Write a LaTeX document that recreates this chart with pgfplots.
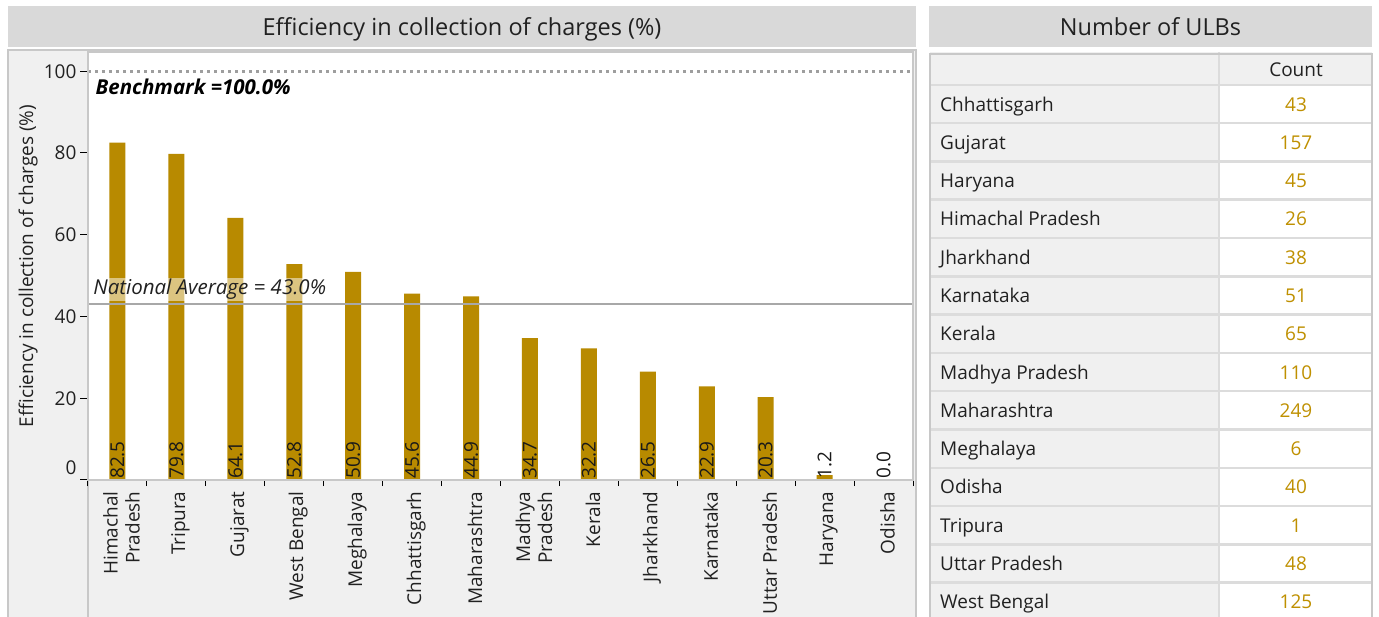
\documentclass[border=0pt]{standalone}
\usepackage{fontspec}
\setmainfont{Open Sans}
\usepackage{pgfplots}
\usepackage{pgfplotstable}
\pgfplotsset{compat=1.18}
\definecolor{barc}{HTML}{B88A00}
\definecolor{cnt}{HTML}{BF9000}
\definecolor{band}{HTML}{D9D9D9}
\definecolor{panel}{HTML}{F0F0F0}
\definecolor{edge}{HTML}{C8C8C8}
\definecolor{gridc}{HTML}{DCDCDC}
\definecolor{refl}{HTML}{A8A8A8}
\definecolor{dotl}{HTML}{9E9E9E}

\pgfplotstableread[col sep=comma]{
x,v
0,82.5
1,79.8
2,64.1
3,52.8
4,50.9
5,45.6
6,44.9
7,34.7
8,32.2
9,26.5
10,22.9
11,20.3
12,1.2
13,0.0
}\effdata

\pgfplotstableread[col sep=comma]{
row,count,name
0,43,Chhattisgarh
1,157,Gujarat
2,45,Haryana
3,26,Himachal Pradesh
4,38,Jharkhand
5,51,Karnataka
6,65,Kerala
7,110,Madhya Pradesh
8,249,Maharashtra
9,6,Meghalaya
10,40,Odisha
11,1,Tripura
12,48,Uttar Pradesh
13,125,West Bengal
}\ulbdata

\newcommand{\tf}{\fontsize{19}{22}\selectfont}
\newcommand{\lf}{\fontsize{20.5}{24}\selectfont}
\newcommand{\hf}{\fontsize{23.5}{28}\selectfont}

\begin{document}
\begin{tikzpicture}[x=1pt,y=1pt]
\useasboundingbox (0,0) rectangle (1379,616);
% ---- left section background
\fill[band] (8,610) rectangle (916,569);
\node[font=\hf, text=black!87, anchor=base] at (462,580.5) {Efficiency in collection of charges (\%)};
\fill[panel] (8,-2) rectangle (916,566);
\draw[edge, line width=2pt] (8,-2) -- (8,566) -- (916,566) -- (916,-2);
\draw[edge, line width=1.5pt] (88,-2) -- (88,136);

\begin{axis}[
  at={(88pt,136pt)}, anchor=south west,
  scale only axis, width=825pt, height=428pt,
  xmin=-0.5, xmax=13.5, ymin=0, ymax=104.7,
  axis background/.style={fill=white},
  axis line style={edge, line width=1.5pt},
  axis on top,
  tick align=outside,
  xtick={0,...,13},
  xticklabels={{Himachal\\Pradesh},Tripura,Gujarat,West Bengal,Meghalaya,Chhattisgarh,Maharashtra,{Madhya\\Pradesh},Kerala,Jharkhand,Karnataka,Uttar Pradesh,Haryana,Odisha},
  xticklabel style={rotate=90, anchor=east, align=right, font=\tf, text=black!87, yshift=-4pt},
  major x tick style={draw=none},
  minor xtick={-0.5,0.5,...,13.5},
  minor x tick style={black, line width=1pt},
  minor tick length=6pt,
  xtick pos=bottom,
  ytick={0,20,40,60,80,100},
  yticklabels={\raisebox{5pt}[0pt][0pt]{0},20,40,60,80,100},
  ytick pos=left,
  major y tick style={black, line width=1pt},
  major tick length=8pt,
  yticklabel style={font=\tf, text=black!87},
  /pgf/number format/assume math mode=true,
  ylabel={Efficiency in collection of charges (\%)},
  every axis y label/.style={at={(axis description cs:-0.0727,0.5)}, rotate=90, anchor=center, font=\tf, text=black!87},
  clip=false,
]
\addplot[ybar, bar width=16pt, fill=barc, draw=none] table[x=x, y=v] {\effdata};
\addplot[draw=none, mark=none, point meta=explicit,
  nodes near coords={\pgfmathprintnumber[fixed,fixed zerofill,precision=1]{\pgfplotspointmeta}},
  every node near coord/.append style={rotate=90, anchor=west, font=\tf, text=black!90, inner sep=1pt}]
  table[x=x, y expr=0, meta=v] {\effdata};
\addplot[dotl, line width=3pt, dash pattern=on 3pt off 4pt] coordinates {(-0.5,100) (13.5,100)};
\addplot[refl, line width=1.5pt] coordinates {(-0.5,43) (13.5,43)};
\node[anchor=south west, font=\lf\itshape, fill=white, fill opacity=0.5, text opacity=1, inner sep=1pt, text=black!87] at (axis cs:-0.43,43.8) {National Average = 43.0\%};
\node[anchor=west, font=\lf\bfseries\itshape, text=black] at (axis cs:-0.43,96.2) {Benchmark =100.0\%};
\end{axis}

% ---- right section
\fill[band] (929,610) rectangle (1372,569);
\node[font=\hf, text=black!87, anchor=base] at (1150.5,580.5) {Number of ULBs};

\begin{axis}[
  at={(929pt,0pt)}, anchor=south west,
  scale only axis, width=443pt, height=564pt,
  xmin=929, xmax=1372, ymin=-1.358, ymax=13.37, y dir=reverse,
  hide axis, clip=false,
]
\fill[panel] (axis cs:930,-1.358) rectangle (axis cs:1219,13.45);
\fill[panel] (axis cs:1219,-1.358) rectangle (axis cs:1372,-0.5);
\fill[white] (axis cs:1220,-0.5) rectangle (axis cs:1371,13.45);
\pgfplotsinvokeforeach{-0.5,0.5,1.5,2.5,3.5,4.5,5.5,6.5,7.5,8.5,9.5,10.5,11.5,12.5}{
  \draw[gridc, line width=2.5pt] (axis cs:930,#1) -- (axis cs:1372,#1);
}
\draw[gridc, line width=2.5pt] (axis cs:1219,-1.358) -- (axis cs:1219,13.45);
\draw[edge, line width=2.5pt] (axis cs:930,13.45) -- (axis cs:930,-1.31) -- (axis cs:1372,-1.31) -- (axis cs:1372,13.45);
\node[font=\tf, text=black!87, anchor=base, yshift=-7pt] at (axis cs:1296,-0.89) {Count};
\addplot[draw=none, mark=none, point meta=explicit symbolic,
  nodes near coords, every node near coord/.append style={anchor=base west, yshift=-7pt, font=\tf, text=black!87, inner sep=0pt}]
  table[x expr=940, y=row, meta=name] {\ulbdata};
\addplot[draw=none, mark=none, point meta=explicit symbolic,
  nodes near coords, every node near coord/.append style={anchor=base, yshift=-7pt, font=\tf, text=cnt, inner sep=0pt}]
  table[x expr=1296, y=row, meta=count] {\ulbdata};
\end{axis}
\end{tikzpicture}
\end{document}
